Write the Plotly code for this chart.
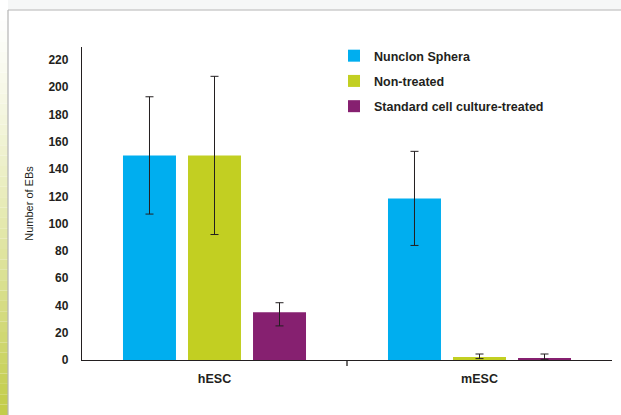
import plotly.graph_objects as go

categories = ["hESC", "mESC"]
series_names = ["Nunclon Sphera", "Non-treated", "Standard cell culture-treated"]
nunclon = [150, 118.5]
nunclon_err_plus = [43, 34.5]
nunclon_err_minus = [43, 34.5]
nontreated = [150, 2.2]
nontreated_err_plus = [58, 2.2]
nontreated_err_minus = [58, 1.2]
standard = [35, 1.5]
standard_err_plus = [7, 2.9]
standard_err_minus = [10, 1.0]
y_ticks = [0, 20, 40, 60, 80, 100, 120, 140, 160, 180, 200, 220]

colors = ["#00AEEF", "#C2CF22", "#862070"]
BOLD = "Liberation Sans, Arial, Helvetica, sans-serif"
TXT = "#231f20"

fig = go.Figure()
for name, vals, ep, em, c in [
    (series_names[0], nunclon, nunclon_err_plus, nunclon_err_minus, colors[0]),
    (series_names[1], nontreated, nontreated_err_plus, nontreated_err_minus, colors[1]),
    (series_names[2], standard, standard_err_plus, standard_err_minus, colors[2]),
]:
    fig.add_trace(go.Bar(
        x=categories, y=vals, name=name, legendgroup=name,
        marker=dict(color=c, line=dict(width=0)),
        error_y=dict(type="data", array=ep, arrayminus=em, symmetric=False,
                     color="#231f20", thickness=1, width=4),
    ))

# decorative background: left green gradient strip and grey frame
shapes = []
n = 40
top_c = (255, 255, 255)
bot_c = (195, 205, 75)
for i in range(n):
    t = i / (n - 1)
    t2 = t ** 1.3
    r = int(top_c[0] + (bot_c[0] - top_c[0]) * t2)
    g = int(top_c[1] + (bot_c[1] - top_c[1]) * t2)
    b = int(top_c[2] + (bot_c[2] - top_c[2]) * t2)
    shapes.append(dict(type="rect", xref="paper", yref="paper",
                       x0=-82 / 530, x1=-74 / 530,
                       y0=1 + 47 / 313 - (i + 1) * (415 / 313) / n,
                       y1=1 + 47 / 313 - i * (415 / 313) / n,
                       fillcolor=f"rgb({r},{g},{b})", line=dict(width=0), layer="below"))
# faint watermark band on top
shapes.append(dict(type="rect", xref="paper", yref="paper",
                   x0=-74 / 530, x1=1 + 9 / 530, y0=1 + 37.6 / 313, y1=1 + 47 / 313,
                   fillcolor="#f6f7f7", line=dict(width=0), layer="below"))
# frame lines
shapes.append(dict(type="line", xref="paper", yref="paper",
                   x0=-74 / 530, x1=1 + 9 / 530, y0=1 + 37 / 313, y1=1 + 37 / 313,
                   line=dict(color="#b4b4b4", width=1.2)))
shapes.append(dict(type="line", xref="paper", yref="paper",
                   x0=-74 / 530, x1=-74 / 530, y0=1 + 37 / 313, y1=-55 / 313,
                   line=dict(color="#b4b4b4", width=1.2)))
# category boundary tick between the two groups
shapes.append(dict(type="line", xref="paper", yref="paper",
                   x0=0.5, x1=0.5, y0=0, y1=-6 / 313,
                   line=dict(color="#231f20", width=1.3)))

fig.update_layout(
    width=621, height=415,
    margin=dict(l=82, r=9, t=47, b=55, pad=0),
    paper_bgcolor="white", plot_bgcolor="white",
    barmode="group", bargap=0.264, bargroupgap=0.185,
    showlegend=True,
    legend=dict(x=0.4755, y=1.019, xanchor="left", yanchor="top",
                bgcolor="rgba(0,0,0,0)", tracegroupgap=6, itemwidth=30,
                font=dict(family=BOLD, size=12.5, color=TXT, weight="bold")),
    shapes=shapes,
    xaxis=dict(showline=True, linecolor="#231f20", linewidth=1.3,
               ticks="", showgrid=False, zeroline=False, ticklabelstandoff=7,
               tickfont=dict(family=BOLD, size=12.5, color=TXT, weight="bold")),
    yaxis=dict(range=[0, 229.5], tickvals=y_ticks, showline=True, linecolor="#231f20",
               linewidth=1.3, ticks="", showgrid=False, zeroline=False,
               ticklabelstandoff=10,
               tickfont=dict(family=BOLD, size=12, color=TXT, weight="bold"),
               title=dict(text="Number of EBs", standoff=12,
                          font=dict(family="Liberation Sans, Arial, sans-serif", size=11, color=TXT))),
)

fig.write_html("out.html", config={"displayModeBar": False},
               post_script="document.body.style.margin='0px';")
